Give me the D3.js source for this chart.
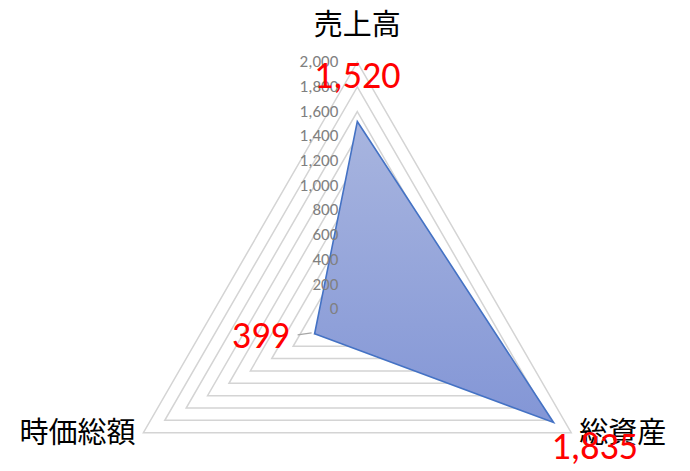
<!DOCTYPE html>
<html>
<head>
<meta charset="utf-8">
<script src="https://cdn.jsdelivr.net/npm/d3@7.9.0/dist/d3.min.js"></script>
<style>
  html, body { margin: 0; padding: 0; background: #fff; }
  svg { display: block; }
</style>
</head>
<body>
<svg id="chart" width="690" height="471"></svg>
<script>
// ------------------- Data -------------------
const categories = ['売上高', '総資産', '時価総額'];
const values = [1520, 1835, 399];
const valueLabels = ['1,520', '1,835', '399'];
const ticks = [0, 200, 400, 600, 800, 1000, 1200, 1400, 1600, 1800, 2000];

const width = 690, height = 471;
const cx = 357.3, cy = 309.2;
const numFont = 'Calibri, Carlito, Lato, sans-serif';
const jpFont = '"Noto Sans CJK JP", sans-serif';

const svg = d3.select('#chart');

const rScale = d3.scaleLinear().domain([0, 2000]).range([0, 247]);
const angle = d3.scalePoint().domain(d3.range(categories.length)).range([-90, 150]);
const pt = (i, v) => {
  const a = angle(i) * Math.PI / 180;
  return [cx + rScale(v) * Math.cos(a), cy + rScale(v) * Math.sin(a)];
};

// gradient fill
const grad = svg.append('defs').append('linearGradient')
  .attr('id', 'fillGrad')
  .attr('x1', 0).attr('y1', 0).attr('x2', 0).attr('y2', 1);
grad.append('stop').attr('offset', '0%').attr('stop-color', '#a8b5df');
grad.append('stop').attr('offset', '100%').attr('stop-color', '#8396d6');

// ------------------- Grid -------------------
const line = d3.line();
svg.append('g')
  .selectAll('path')
  .data(ticks.slice(1))
  .join('path')
  .attr('d', t => line(categories.map((c, i) => pt(i, t))) + 'Z')
  .attr('fill', 'none')
  .attr('stroke', '#d4d4d4')
  .attr('stroke-width', 1.5);

// ------------------- Series -------------------
const pts = values.map((v, i) => pt(i, v));
svg.append('path')
  .attr('d', line(pts) + 'Z')
  .attr('fill', 'url(#fillGrad)')
  .attr('stroke', '#4472c4')
  .attr('stroke-width', 1.6)
  .attr('stroke-linejoin', 'miter');

// ------------------- Tick labels -------------------
svg.append('g')
  .selectAll('text')
  .data(ticks)
  .join('text')
  .attr('x', cx - 19)
  .attr('y', t => cy - rScale(t) + 5)
  .attr('text-anchor', 'end')
  .attr('font-family', numFont)
  .attr('font-size', 17)
  .attr('fill', '#808080')
  .text(d3.format(','));

// ------------------- Category labels -------------------
const catPos = [
  { dx: 0, dy: -27, anchor: 'middle' },
  { dx: 8, dy: 10, anchor: 'start' },
  { dx: -8, dy: 10, anchor: 'end' }
];
svg.append('g')
  .selectAll('text')
  .data(categories)
  .join('text')
  .attr('x', (d, i) => pt(i, 2000)[0] + catPos[i].dx)
  .attr('y', (d, i) => pt(i, 2000)[1] + catPos[i].dy)
  .attr('text-anchor', (d, i) => catPos[i].anchor)
  .attr('font-family', jpFont)
  .attr('font-size', 29)
  .attr('fill', '#000')
  .text(d => d);

// ------------------- Data labels -------------------
const lblPos = [
  { dx: 0, dy: -33, anchor: 'middle' },
  { dx: -2, dy: 36, anchor: 'start' },
  { dx: -25, dy: 14, anchor: 'end' }
];

// leader line for 時価総額 label
svg.append('path')
  .attr('d', line([[pts[2][0] - 17, pts[2][1] + 1], [pts[2][0] - 3, pts[2][1] - 1]]))
  .attr('stroke', '#a6a6a6')
  .attr('stroke-width', 1.2)
  .attr('fill', 'none');

svg.append('g')
  .selectAll('text')
  .data(valueLabels)
  .join('text')
  .attr('x', (d, i) => pts[i][0] + lblPos[i].dx)
  .attr('y', (d, i) => pts[i][1] + lblPos[i].dy)
  .attr('text-anchor', (d, i) => lblPos[i].anchor)
  .attr('font-family', numFont)
  .attr('font-size', 38)
  .attr('fill', '#ff0000')
  .text(d => d);
</script>
</body>
</html>
